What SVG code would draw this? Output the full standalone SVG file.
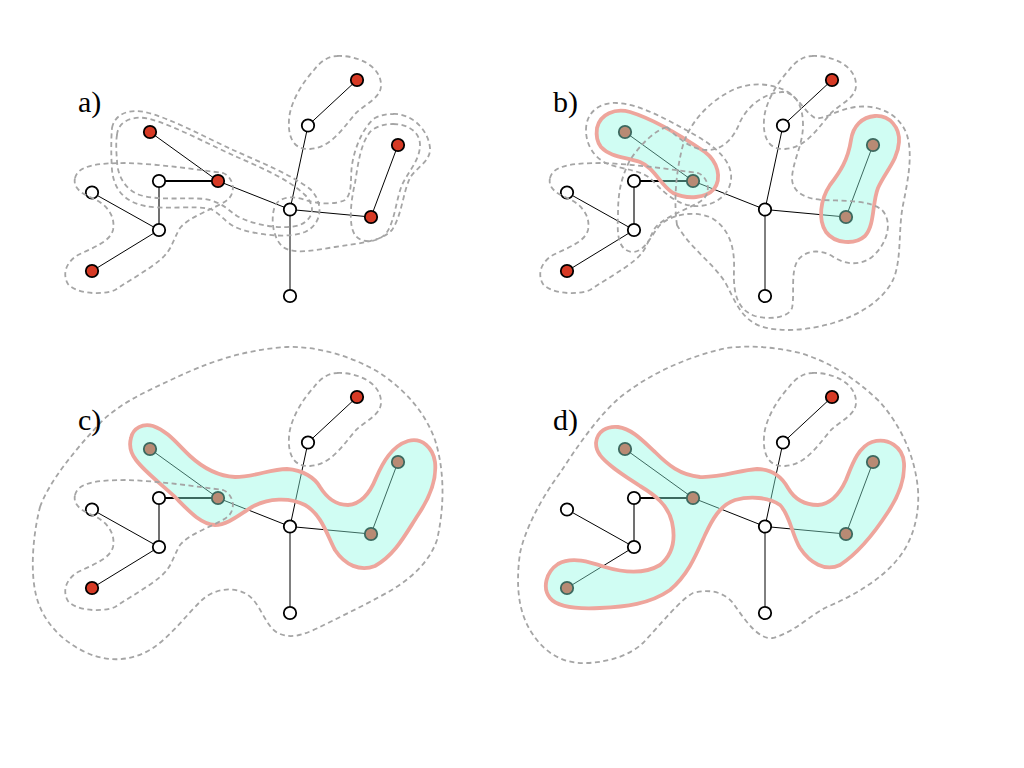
<svg xmlns="http://www.w3.org/2000/svg" width="1024" height="768" viewBox="0 0 1024 768">
<style>
.e{stroke:#000;stroke-width:1;fill:none}
.e2{stroke:#000;stroke-width:2;fill:none}
.eg{stroke:#707070;stroke-width:2;fill:none}
.w{fill:#fff;stroke:#000;stroke-width:1.8}
.r{fill:#d63a25;stroke:#000;stroke-width:1.8}
.d{fill:none;stroke:#a5a5a5;stroke-width:1.8;stroke-dasharray:5 3.5}
.blob{fill:#8ffae2;fill-opacity:0.42;stroke:#eea59c;stroke-width:3.8;stroke-linejoin:round}
.lbl{font-family:"Liberation Serif","Times New Roman",serif;font-size:30px;fill:#000}
</style>
<rect width="1024" height="768" fill="#fff"/>
<defs>
<path id="c1" d="M337,56 C356,55 380,65 381,84 C382,98 365,104 356,113 C345,125 332,148 310,149 C292,150 288,135 289,120 C290,102 303,82 314,70 C320,62 328,56 337,56 Z"/>
<path id="c4" d="M75,178 C78,166 95,163 127,163 C160,164 200,170 223,173 C235,178 236,195 226,201 C212,210 190,216 180,228 C172,242 172,250 160,260 C148,270 130,280 115,290 C100,296 75,293 68,284 C62,274 66,262 78,255 C92,248 110,242 113,230 C116,215 105,203 92,198 C80,193 73,187 75,178 Z"/>
</defs>

<!-- panel graphs -->
<g id="panel-a">
<g id="a-connectors">
<line class="e" x1="357" y1="80" x2="308" y2="125.5"/>
<line class="e" x1="308" y1="125.5" x2="290" y2="209.5"/>
<line class="e" x1="150" y1="132" x2="218" y2="181"/>
<line class="e2" x1="159" y1="181" x2="218" y2="181"/>
<line class="eg" x1="159" y1="181" x2="159" y2="230"/>
<line class="e" x1="218" y1="181" x2="290" y2="209.5"/>
<line class="e" x1="92" y1="192.5" x2="159" y2="230"/>
<line class="e" x1="159" y1="230" x2="92" y2="271"/>
<line class="e" x1="290" y1="209.5" x2="371" y2="217"/>
<line class="e" x1="371" y1="217" x2="398" y2="145"/>
<line class="e" x1="290" y1="209.5" x2="290" y2="296"/>
</g>
<g id="a-n1"><circle class="r" cx="357" cy="80" r="6.2"/></g>
<g id="a-n2"><circle class="w" cx="308" cy="125.5" r="6.2"/></g>
<g id="a-n3"><circle class="r" cx="150" cy="132" r="6.2"/></g>
<g id="a-n4"><circle class="r" cx="398" cy="145" r="6.2"/></g>
<g id="a-n5"><circle class="w" cx="159" cy="181" r="6.2"/></g>
<g id="a-n6"><circle class="r" cx="218" cy="181" r="6.2"/></g>
<g id="a-n7"><circle class="w" cx="92" cy="192.5" r="6.2"/></g>
<g id="a-n8"><circle class="w" cx="290" cy="209.5" r="6.2"/></g>
<g id="a-n9"><circle class="r" cx="371" cy="217" r="6.2"/></g>
<g id="a-n10"><circle class="w" cx="159" cy="230" r="6.2"/></g>
<g id="a-n11"><circle class="r" cx="92" cy="271" r="6.2"/></g>
<g id="a-n12"><circle class="w" cx="290" cy="296" r="6.2"/></g>
</g>

<g id="panel-b" transform="translate(475,0)">
<g id="b-connectors">
<line class="e" x1="357" y1="80" x2="308" y2="125.5"/>
<line class="e" x1="308" y1="125.5" x2="290" y2="209.5"/>
<line class="e" x1="150" y1="132" x2="218" y2="181"/>
<line class="e2" x1="159" y1="181" x2="218" y2="181"/>
<line class="eg" x1="159" y1="181" x2="159" y2="230"/>
<line class="e" x1="218" y1="181" x2="290" y2="209.5"/>
<line class="e" x1="92" y1="192.5" x2="159" y2="230"/>
<line class="e" x1="159" y1="230" x2="92" y2="271"/>
<line class="e" x1="290" y1="209.5" x2="371" y2="217"/>
<line class="e" x1="371" y1="217" x2="398" y2="145"/>
<line class="e" x1="290" y1="209.5" x2="290" y2="296"/>
</g>
<g id="b-n1"><circle class="r" cx="357" cy="80" r="6.2"/></g>
<g id="b-n2"><circle class="w" cx="308" cy="125.5" r="6.2"/></g>
<g id="b-n3"><circle class="r" cx="150" cy="132" r="6.2"/></g>
<g id="b-n4"><circle class="r" cx="398" cy="145" r="6.2"/></g>
<g id="b-n5"><circle class="w" cx="159" cy="181" r="6.2"/></g>
<g id="b-n6"><circle class="r" cx="218" cy="181" r="6.2"/></g>
<g id="b-n7"><circle class="w" cx="92" cy="192.5" r="6.2"/></g>
<g id="b-n8"><circle class="w" cx="290" cy="209.5" r="6.2"/></g>
<g id="b-n9"><circle class="r" cx="371" cy="217" r="6.2"/></g>
<g id="b-n10"><circle class="w" cx="159" cy="230" r="6.2"/></g>
<g id="b-n11"><circle class="r" cx="92" cy="271" r="6.2"/></g>
<g id="b-n12"><circle class="w" cx="290" cy="296" r="6.2"/></g>
</g>

<g id="panel-c" transform="translate(0,317)">
<g id="c-connectors">
<line class="e" x1="357" y1="80" x2="308" y2="125.5"/>
<line class="e" x1="308" y1="125.5" x2="290" y2="209.5"/>
<line class="e" x1="150" y1="132" x2="218" y2="181"/>
<line class="e2" x1="159" y1="181" x2="218" y2="181"/>
<line class="eg" x1="159" y1="181" x2="159" y2="230"/>
<line class="e" x1="218" y1="181" x2="290" y2="209.5"/>
<line class="e" x1="92" y1="192.5" x2="159" y2="230"/>
<line class="e" x1="159" y1="230" x2="92" y2="271"/>
<line class="e" x1="290" y1="209.5" x2="371" y2="217"/>
<line class="e" x1="371" y1="217" x2="398" y2="145"/>
<line class="e" x1="290" y1="209.5" x2="290" y2="296"/>
</g>
<g id="c-n1"><circle class="r" cx="357" cy="80" r="6.2"/></g>
<g id="c-n2"><circle class="w" cx="308" cy="125.5" r="6.2"/></g>
<g id="c-n3"><circle class="r" cx="150" cy="132" r="6.2"/></g>
<g id="c-n4"><circle class="r" cx="398" cy="145" r="6.2"/></g>
<g id="c-n5"><circle class="w" cx="159" cy="181" r="6.2"/></g>
<g id="c-n6"><circle class="r" cx="218" cy="181" r="6.2"/></g>
<g id="c-n7"><circle class="w" cx="92" cy="192.5" r="6.2"/></g>
<g id="c-n8"><circle class="w" cx="290" cy="209.5" r="6.2"/></g>
<g id="c-n9"><circle class="r" cx="371" cy="217" r="6.2"/></g>
<g id="c-n10"><circle class="w" cx="159" cy="230" r="6.2"/></g>
<g id="c-n11"><circle class="r" cx="92" cy="271" r="6.2"/></g>
<g id="c-n12"><circle class="w" cx="290" cy="296" r="6.2"/></g>
</g>

<g id="panel-d" transform="translate(475,317)">
<g id="d-connectors">
<line class="e" x1="357" y1="80" x2="308" y2="125.5"/>
<line class="e" x1="308" y1="125.5" x2="290" y2="209.5"/>
<line class="e" x1="150" y1="132" x2="218" y2="181"/>
<line class="e2" x1="159" y1="181" x2="218" y2="181"/>
<line class="eg" x1="159" y1="181" x2="159" y2="230"/>
<line class="e" x1="218" y1="181" x2="290" y2="209.5"/>
<line class="e" x1="92" y1="192.5" x2="159" y2="230"/>
<line class="e" x1="159" y1="230" x2="92" y2="271"/>
<line class="e" x1="290" y1="209.5" x2="371" y2="217"/>
<line class="e" x1="371" y1="217" x2="398" y2="145"/>
<line class="e" x1="290" y1="209.5" x2="290" y2="296"/>
</g>
<g id="d-n1"><circle class="r" cx="357" cy="80" r="6.2"/></g>
<g id="d-n2"><circle class="w" cx="308" cy="125.5" r="6.2"/></g>
<g id="d-n3"><circle class="r" cx="150" cy="132" r="6.2"/></g>
<g id="d-n4"><circle class="r" cx="398" cy="145" r="6.2"/></g>
<g id="d-n5"><circle class="w" cx="159" cy="181" r="6.2"/></g>
<g id="d-n6"><circle class="r" cx="218" cy="181" r="6.2"/></g>
<g id="d-n7"><circle class="w" cx="92" cy="192.5" r="6.2"/></g>
<g id="d-n8"><circle class="w" cx="290" cy="209.5" r="6.2"/></g>
<g id="d-n9"><circle class="r" cx="371" cy="217" r="6.2"/></g>
<g id="d-n10"><circle class="w" cx="159" cy="230" r="6.2"/></g>
<g id="d-n11"><circle class="r" cx="92" cy="271" r="6.2"/></g>
<g id="d-n12"><circle class="w" cx="290" cy="296" r="6.2"/></g>
</g>

<!-- selected cluster regions -->
<g id="regions">
<path class="blob" d="M597,128 C600,114 615,108 630,112 C650,118 680,135 705,152 C718,162 722,178 714,189 C706,198 688,200 673,193 C660,185 655,168 640,162 C625,157 610,157 601,147 C597,142 596,135 597,128 Z"/>
<path class="blob" d="M875,116 C890,115 900,128 899,142 C898,160 885,172 878,188 C872,203 875,225 865,236 C855,245 835,244 826,232 C818,220 820,200 830,185 C840,172 848,160 851,140 C853,126 862,117 875,116 Z"/>
<path class="blob" d="M131,438 C133,428 143,423 153,426 C168,431 178,445 190,456 C203,468 217,476 235,477 C255,477 270,469 287,469 C303,470 315,478 320,487 C327,498 335,505 348,505 C362,504 370,493 376,478 C383,462 392,446 408,441 C422,437 433,448 435,462 C437,480 428,500 418,515 C405,535 395,555 375,566 C360,572 345,565 335,550 C327,535 322,515 305,505 C290,497 268,498 252,507 C240,514 228,525 215,525 C200,524 188,510 175,497 C160,483 145,472 136,460 C130,452 129,445 131,438 Z"/>
<path class="blob" d="M596,443 C597,431 607,426 618,427 C632,429 642,440 655,452 C668,465 680,475 700,477 C720,478 740,470 757,469 C772,469 782,477 788,488 C795,500 805,505 818,505 C832,504 840,493 846,480 C852,465 858,447 872,442 C888,437 903,447 904,463 C905,480 898,497 888,512 C875,532 860,552 840,565 C825,572 810,563 800,548 C792,535 790,515 780,505 C768,497 750,496 735,500 C720,505 712,520 705,535 C696,555 688,575 670,590 C650,604 625,607 600,608 C580,609 558,608 550,598 C542,588 546,572 558,564 C572,556 590,562 605,567 C625,573 645,574 660,565 C672,555 676,540 672,522 C668,505 655,495 640,486 C625,476 607,465 600,455 C597,451 596,447 596,443 Z"/>
</g>

<!-- dashed cluster contours -->
<g id="contours">
<use href="#c1" class="d"/>
<use href="#c4" class="d"/>
<path class="d" d="M117,135 C118,120 135,115 150,119 C175,126 210,145 237,157 C260,167 290,180 305,195 C315,205 315,218 300,225 C285,230 255,226 237,216 C228,210 222,202 205,199 C185,197 160,201 140,195 C125,190 117,175 117,160 C116,150 116,140 117,135 Z"/>
<path class="d" d="M112,128 C115,113 130,109 145,112 C170,118 205,137 233,150 C260,162 292,175 310,189 C322,200 325,222 305,232 C290,238 262,236 240,229 C225,224 220,212 210,209 C195,205 165,210 145,206 C125,202 114,190 112,170 C111,155 111,140 112,128 Z"/>
<path class="d" d="M393,114 C410,113 428,128 430,148 C431,162 415,168 410,178 C403,192 402,215 392,230 C380,242 360,243 335,247 C315,250 295,255 283,247 C272,238 270,215 276,204 C282,196 295,196 305,200 C318,204 335,205 345,200 C353,193 350,178 352,165 C355,145 365,125 375,118 C381,115 387,114 393,114 Z"/>
<path class="d" d="M393,124 C408,124 420,132 420,145 C420,160 408,172 402,185 C396,200 395,220 387,232 C380,242 362,245 355,235 C348,225 351,200 355,183 C358,165 360,145 370,132 C376,126 385,124 393,124 Z"/>

<use href="#c1" class="d" transform="translate(475,0)"/>
<use href="#c4" class="d" transform="translate(475,0)"/>
<path class="d" d="M586,130 C586,112 600,102 617,103 C640,104 668,120 695,135 C718,148 733,163 731,180 C729,197 712,207 694,206 C678,205 665,194 652,180 C642,170 625,170 608,164 C594,158 586,145 586,130 Z"/>
<path class="d" d="M667,127 C675,135 690,150 707,150 C722,150 733,140 740,122 C748,105 765,93 782,92 C795,92 803,105 803,125 C803,145 793,160 792,178 C792,192 805,199 823,200 C845,201 870,200 882,210 C893,222 888,243 872,257 C860,266 845,265 832,256 C820,249 806,250 798,260 C790,272 795,295 792,308 C788,318 770,320 755,316 C738,310 733,295 734,270 C735,245 728,228 712,218 C695,210 672,214 660,225 C650,237 645,252 632,252 C618,250 617,235 618,215 C618,195 620,180 630,160 C640,145 655,130 667,127 Z"/>
<path class="d" d="M677,225 C674,205 675,175 683,145 C690,122 710,100 735,89 C752,82 772,83 788,92 C800,100 805,112 815,118 C825,120 835,110 855,107 C880,104 900,115 907,135 C913,155 908,180 903,205 C898,230 902,260 893,280 C883,300 860,315 833,323 C810,330 780,333 760,326 C740,318 735,300 725,282 C712,262 690,248 677,225 Z"/>

<use href="#c1" class="d" transform="translate(0,317)"/>
<use href="#c4" class="d" transform="translate(0,317)"/>
<path class="d" d="M40,507 C50,480 75,450 103,420 C125,400 150,390 175,378 C205,364 240,350 287,347 C315,346 350,355 380,373 C405,390 425,412 435,440 C443,465 446,500 437,540 C430,560 415,575 395,588 C375,600 350,612 330,622 C310,632 295,640 280,634 C265,628 262,605 248,595 C235,586 215,588 202,600 C188,613 172,635 153,648 C135,660 110,664 85,652 C60,640 42,620 36,595 C30,570 33,535 40,507 Z"/>

<use href="#c1" class="d" transform="translate(475,317)"/>
<path class="d" d="M520,553 C525,530 540,500 560,473 C575,450 595,420 617,400 C640,380 680,358 727,348 C750,345 775,347 800,353 C830,362 855,378 880,402 C900,425 915,455 918,490 C920,520 910,545 897,560 C880,580 855,595 827,607 C810,615 795,632 773,638 C758,640 745,620 733,603 C725,593 710,588 693,593 C680,600 660,625 643,643 C630,655 610,662 587,663 C565,664 545,655 530,630 C520,613 515,590 520,553 Z"/>
</g>

<g id="labels">
<text class="lbl" x="78" y="112">a)</text>
<text class="lbl" x="553" y="112">b)</text>
<text class="lbl" x="78" y="430">c)</text>
<text class="lbl" x="553" y="430">d)</text>
</g>
</svg>
